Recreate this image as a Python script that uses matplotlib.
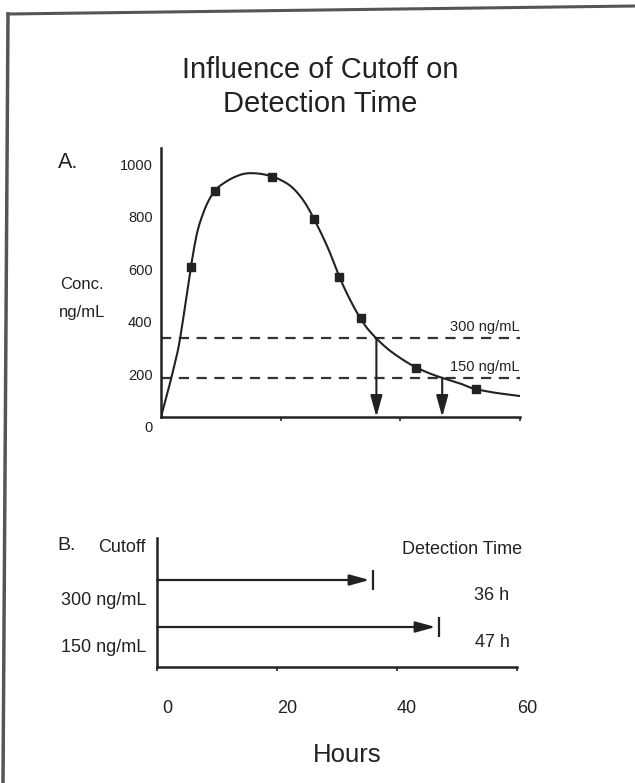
import matplotlib
matplotlib.use("Agg")
import numpy as np
import matplotlib.pyplot as plt
from matplotlib.lines import Line2D
from matplotlib.transforms import ScaledTranslation

plt.rcParams['font.family'] = ['Liberation Sans', 'DejaVu Sans']

INK = '#222222'

# Panel A: concentration curve
curve_hours = [0, 1, 2, 3, 4, 5, 6, 7, 8, 9, 10, 12, 14, 16, 18, 20, 22, 24,
               26, 28, 30, 32, 34, 36, 38, 40, 42, 44, 46, 48, 50, 52, 54, 56, 58, 60]
curve_conc = [0, 85, 175, 275, 420, 573, 700, 775, 828, 863, 885, 913, 929, 930,
              922, 905, 875, 820, 737, 640, 525, 430, 353, 300, 258, 225, 197, 175,
              157, 142, 128, 110, 100, 92, 86, 80]

# measured samples (square markers)
sample_hours = [5.0, 9.0, 18.6, 25.6, 29.8, 33.4, 42.7, 52.6]
sample_conc = [573, 863, 916, 756, 534, 378, 187, 107]

# cutoffs and the detection times they give
cutoffs = [300, 150]
cutoff_labels = ['300 ng/mL', '150 ng/mL']
detect_hours = [36, 47]
detect_labels = ['36 h', '47 h']

conc_ticks = [0, 200, 400, 600, 800, 1000]
hour_ticks = [0, 20, 40, 60]

W, H = 635, 783
fig = plt.figure(figsize=(W / 100, H / 100), dpi=100)
fig.patch.set_facecolor('white')


def fx(x):
    return x / W


def fy(y):
    return 1 - y / H


def smooth(xs, ys, n=16):
    # Catmull-Rom pass through the read points, only to draw a smooth line
    p = np.column_stack([xs, ys]).astype(float)
    p = np.vstack([p[0] - (p[1] - p[0]), p, p[-1] + (p[-1] - p[-2])])
    out = []
    t = np.linspace(0, 1, n, endpoint=False)[:, None]
    for i in range(1, len(p) - 2):
        p0, p1, p2, p3 = p[i - 1], p[i], p[i + 1], p[i + 2]
        out.append(0.5 * (2 * p1 + (-p0 + p2) * t + (2 * p0 - 5 * p1 + 4 * p2 - p3) * t ** 2
                          + (-p0 + 3 * p1 - 3 * p2 + p3) * t ** 3))
    out.append(p[-2][None, :])
    out = np.vstack(out)
    return out[:, 0], out[:, 1]


# scanned slide frame
fig.add_artist(Line2D([fx(8), fx(635)], [fy(14), fy(6)], transform=fig.transFigure,
                      color='#555555', lw=2.2))
fig.add_artist(Line2D([fx(8), fx(3)], [fy(14), fy(783)], transform=fig.transFigure,
                      color='#555555', lw=2.5))

fig.text(fx(320), fy(70), 'Influence of Cutoff on', ha='center', va='center',
         fontsize=21, color=INK)
fig.text(fx(320), fy(104), 'Detection Time', ha='center', va='center',
         fontsize=21, color=INK)

# ---------------- Panel A ----------------
axA = fig.add_axes([fx(161), fy(417), (520 - 161) / W, (417 - 148) / H])
axA.set_xlim(0, 60)
axA.set_ylim(0, 1027)
for s in ['top', 'right']:
    axA.spines[s].set_visible(False)
for s in ['left', 'bottom']:
    axA.spines[s].set_linewidth(1.8)
    axA.spines[s].set_color(INK)

sx, sy = smooth(curve_hours, curve_conc)
axA.plot(sx, sy, color=INK, lw=1.5, zorder=3)
axA.plot(sample_hours, sample_conc, ls='none', marker='s', ms=5.3, color=INK, zorder=4)

for c, lab, h in zip(cutoffs, cutoff_labels, detect_hours):
    axA.plot([0, 60], [c, c], color='#333333', lw=1.6, dashes=(4.6, 3.4), zorder=2)
    axA.annotate(lab, xy=(60, c), xytext=(0, 3), textcoords='offset points',
                 ha='right', va='bottom', fontsize=10.5, color=INK)
    axA.annotate('', xy=(h, 0), xytext=(h, c),
                 arrowprops=dict(arrowstyle='-|>,head_length=13,head_width=3.6',
                                 mutation_scale=1, lw=1.5, color=INK,
                                 shrinkA=0, shrinkB=0), zorder=3)

axA.set_yticks(conc_ticks)
axA.set_xticks(hour_ticks[1:])
axA.set_xticklabels([])
axA.tick_params(axis='y', length=0, pad=6, labelsize=10.5, labelcolor=INK)
axA.tick_params(axis='x', direction='out', length=3, width=1.2, color=INK)
for lab in axA.get_yticklabels():
    lab.set_transform(lab.get_transform() + ScaledTranslation(0, -9.5 / 100, fig.dpi_scale_trans))

fig.text(fx(58), fy(162), 'A.', ha='left', va='center', fontsize=15.5, color=INK)
fig.text(fx(82), fy(285), 'Conc.', ha='center', va='center', fontsize=12, color=INK)
fig.text(fx(82), fy(312), 'ng/mL', ha='center', va='center', fontsize=12, color=INK)

# ---------------- Panel B ----------------
axB = fig.add_axes([fx(157), fy(667), (517 - 157) / W, (667 - 538) / H])
axB.set_xlim(0, 60)
rows = [2, 1]
axB.set_ylim(0.149, 2.894)
for s in ['top', 'right']:
    axB.spines[s].set_visible(False)
for s in ['left', 'bottom']:
    axB.spines[s].set_linewidth(1.8)
    axB.spines[s].set_color(INK)
axB.set_yticks([])

for r, h, clab, dlab in zip(rows, detect_hours, cutoff_labels, detect_labels):
    axB.annotate('', xy=(h, r), xytext=(0, r),
                 arrowprops=dict(arrowstyle='-|>,head_length=12,head_width=3.3',
                                 mutation_scale=1, lw=1.6, color=INK,
                                 shrinkA=0, shrinkB=2.5))
    axB.plot([h], [r], marker='|', ms=14, mew=1.6, color=INK)
    axB.annotate(clab, xy=(0, r), xytext=(-8, -15), textcoords='offset points',
                 ha='right', va='center', fontsize=13, color=INK)
    axB.annotate(dlab, xy=(1, r), xycoords=('axes fraction', 'data'),
                 xytext=(-18, -11), textcoords='offset points',
                 ha='center', va='center', fontsize=13, color=INK)

axB.set_xticks(hour_ticks)
axB.tick_params(axis='x', direction='out', length=3, width=1.2, color=INK,
                labelsize=13, labelcolor=INK, pad=21)
for lab in axB.get_xticklabels():
    lab.set_transform(lab.get_transform() + ScaledTranslation(10 / 100, 0, fig.dpi_scale_trans))

fig.text(fx(57), fy(546), 'B.', ha='left', va='center', fontsize=14, color=INK)
fig.text(fx(146), fy(548), 'Cutoff', ha='right', va='center', fontsize=13, color=INK)
fig.text(fx(462), fy(550), 'Detection Time', ha='center', va='center', fontsize=13, color=INK)
fig.text(fx(347), fy(755), 'Hours', ha='center', va='center', fontsize=18.5, color=INK)

fig.savefig('out.png', dpi=100, facecolor='white')
